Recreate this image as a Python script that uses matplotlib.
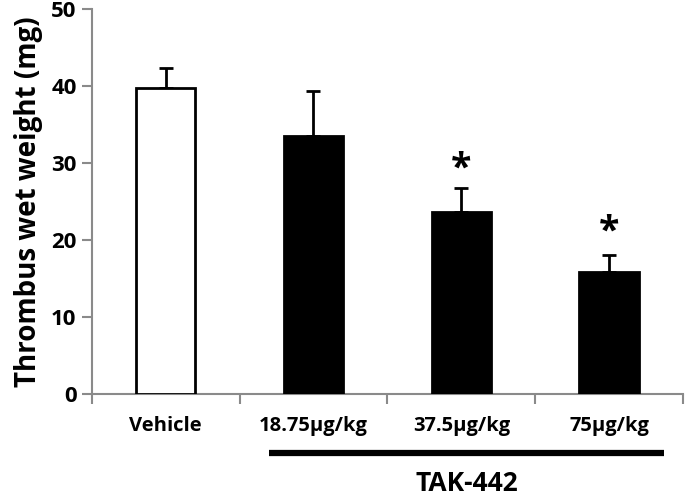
import numpy as np
import matplotlib.pyplot as plt
import matplotlib.transforms as mtransforms

# data
groups = ['Vehicle', '18.75µg/kg', '37.5µg/kg', '75µg/kg']
weights = [39.7, 33.5, 23.6, 15.8]
sem = [2.6, 5.8, 3.2, 2.2]
fills = ['white', 'black', 'black', 'black']
star_y = [None, None, 30.1, 21.9]
bracket_label = 'TAK-442'

plt.rcParams['font.family'] = ['Open Sans', 'DejaVu Sans']

fig = plt.figure(figsize=(6.85, 4.96), dpi=100)
ax = fig.add_axes([0.134, 0.2056, 0.863, 0.7764])

x = np.arange(len(groups))
ax.bar(x, weights, width=0.4, color=fills, edgecolor='black', linewidth=2, zorder=3)
ax.errorbar(x, weights, yerr=[np.zeros(len(sem)), sem], fmt='none', ecolor='black',
            elinewidth=2, capsize=5, capthick=2, zorder=2)

for xi, sy in zip(x, star_y):
    if sy is not None:
        ax.text(xi, sy - 1.0, '*', ha='center', va='center', fontsize=27, fontweight='bold')

ax.set_xlim(-0.5, len(groups) - 0.5)
ax.set_ylim(0, 50)
ax.set_yticks([0, 10, 20, 30, 40, 50])
ax.set_xticks(x)
ax.set_xticklabels(groups, fontsize=14.5, fontweight='bold')
ax.set_xticks(np.arange(-0.5, len(groups)), minor=True)
ax.tick_params(axis='x', which='major', length=0, pad=16)
ax.tick_params(axis='x', which='minor', length=7, width=1.5, color='#8a8a8a', direction='out')
ax.tick_params(axis='y', length=7, width=1.5, color='#8a8a8a', labelsize=16, pad=4)
for lab in ax.get_yticklabels():
    lab.set_fontweight('bold')

for side in ['top', 'right']:
    ax.spines[side].set_visible(False)
for side in ['left', 'bottom']:
    ax.spines[side].set_color('#8a8a8a')
    ax.spines[side].set_linewidth(1.5)

ax.set_ylabel('Thrombus wet weight (mg)', fontsize=20, fontweight='bold', labelpad=6)

# bracket under the TAK-442 doses
trans = mtransforms.blended_transform_factory(ax.transData, ax.transAxes)
ax.plot([0.70, 3.37], [-0.153, -0.153], color='black', linewidth=4.5,
        transform=trans, clip_on=False, solid_capstyle='butt')
ax.text(2.04, -0.232, bracket_label, transform=trans, ha='center', va='center',
        fontsize=19, fontweight='bold')

fig.savefig('out.png', dpi=100)
